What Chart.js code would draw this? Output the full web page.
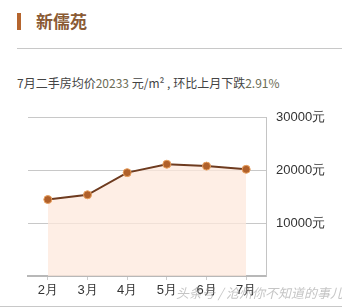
<!DOCTYPE html>
<html>
<head>
<meta charset="utf-8">
<script src="https://cdn.jsdelivr.net/npm/chart.js@4/dist/chart.umd.min.js"></script>
<style>
  html, body { margin: 0; padding: 0; background: #fff; }
  body { width: 342px; height: 308px; position: relative; overflow: hidden;
         font-family: "Noto Sans CJK SC", "Noto Sans", sans-serif; }
  #bar { position: absolute; left: 17px; top: 13px; width: 4px; height: 17px; background: #b5652e; }
  #title { position: absolute; left: 36px; top: 9px; font-size: 17px; color: #8a5a34; font-weight: bold; line-height: 24px; }
  #rule { position: absolute; left: 17px; right: 0; top: 48px; height: 1px; background: #c8c8c8; }
  #sub { position: absolute; left: 17px; top: 74px; font-size: 12px; color: #444; line-height: 18px; white-space: nowrap; }
  #sub .num { color: #6b6b55; }
  #wrap { position: absolute; left: 0; top: 100px; width: 342px; height: 208px; }
  #mark { position: absolute; left: 176px; top: 283px; font-size: 13px; color: rgba(140,140,140,0.5); font-style: italic; white-space: nowrap; }
  #foot { position: absolute; left: 0; right: 0; top: 306px; height: 1px; background: #c8c8c8; }
</style>
</head>
<body>
<div id="bar"></div>
<div id="title">新儒苑</div>
<div id="rule"></div>
<div id="sub">7月二手房均价<span class="num">20233</span> 元/m² , 环比上月下跌<span class="num">2.91%</span></div>
<div id="wrap"><canvas id="chart"></canvas></div>
<div id="mark">头条号 / 沧州你不知道的事儿</div>
<div id="foot"></div>
<script>
// 月份と均价
const months = ["2月", "3月", "4月", "5月", "6月", "7月"];
const prices = [14500, 15400, 19600, 21200, 20839, 20233];
const yTicks = [10000, 20000, 30000];

const ctx = document.getElementById("chart").getContext("2d");
const myChart = new Chart(ctx, {
    type: "line",
    data: {
        labels: months,
        datasets: [{
            data: prices,
            borderColor: "#6e3b1f",
            borderWidth: 2,
            backgroundColor: "rgba(253,232,220,0.75)",
            fill: "origin",
            tension: 0,
            pointRadius: 4,
            pointBackgroundColor: "#b0602a",
            pointBorderColor: "#e8a060",
            pointBorderWidth: 1
        }]
    },
    options: {
        responsive: true,
        maintainAspectRatio: false,
        animation: false,
        layout: { padding: { left: 28, top: 15, right: 0, bottom: 0 } },
        plugins: {
            legend: { display: false },
            tooltip: { enabled: false }
        },
        scales: {
            x: {
                offset: true,
                afterFit: scale => { scale.height = 32; },
                grid: { display: true, offset: false, drawOnChartArea: false, tickLength: 4, color: "#ccc" },
                border: { display: true, color: "#b8b8b8", width: 2 },
                ticks: { color: "#333", font: { size: 13 }, padding: 3 }
            },
            y: {
                position: "right",
                min: 0,
                max: 30000,
                afterFit: scale => { scale.width = 76; },
                afterBuildTicks: scale => { scale.ticks = yTicks.map(v => ({ value: v })); },
                grid: { color: "#c8c8c8", drawTicks: false },
                border: { display: true, color: "#c4c4c4", width: 1 },
                ticks: {
                    color: "#333",
                    font: { size: 13 },
                    padding: 10,
                    callback: v => v + "元"
                }
            }
        }
    }
});
</script>
</body>
</html>
